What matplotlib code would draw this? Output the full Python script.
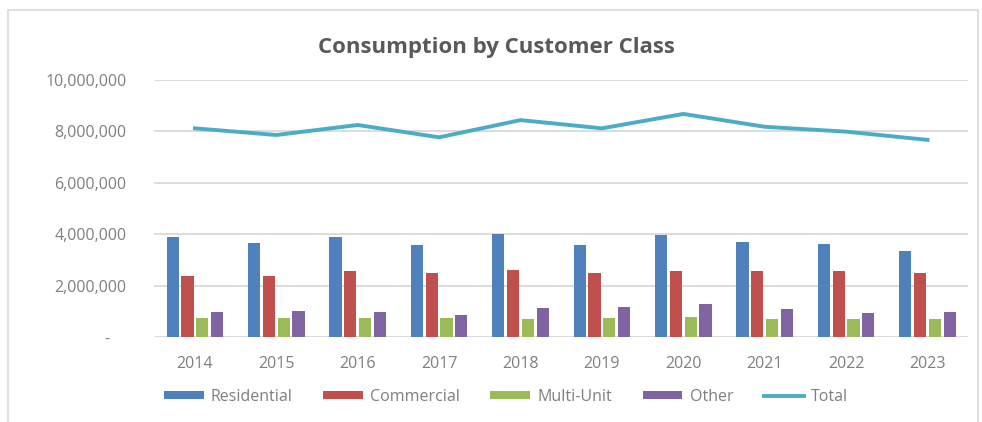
import numpy as np
import matplotlib
matplotlib.use('Agg')
import matplotlib.pyplot as plt
from matplotlib.patches import Rectangle
from matplotlib.ticker import FuncFormatter

# data
years = ['2014', '2015', '2016', '2017', '2018', '2019', '2020', '2021', '2022', '2023']
residential = [3900000, 3650000, 3900000, 3570000, 4010000, 3570000, 3980000, 3710000, 3620000, 3350000]
commercial = [2370000, 2370000, 2570000, 2480000, 2610000, 2500000, 2570000, 2570000, 2570000, 2500000]
multi_unit = [750000, 750000, 750000, 750000, 690000, 730000, 770000, 690000, 690000, 690000]
other = [960000, 1020000, 960000, 860000, 1120000, 1160000, 1270000, 1080000, 950000, 980000]
total = [8120000, 7860000, 8250000, 7770000, 8440000, 8120000, 8680000, 8180000, 7990000, 7670000]

series = [('Residential', residential, '#4F81BD'),
          ('Commercial', commercial, '#C0504D'),
          ('Multi-Unit', multi_unit, '#9BBB59'),
          ('Other', other, '#8064A2')]

plt.rcParams['font.family'] = ['Open Sans', 'DejaVu Sans']

fig = plt.figure(figsize=(9.82, 4.22), dpi=100)
ax = fig.add_axes([0.157, 0.2014, 0.829, 0.609])

x = np.arange(len(years))
pitch = 0.182
width = 0.15
handles = []
for i, (name, vals, col) in enumerate(series):
    handles.append(ax.bar(x + (i - 1.5) * pitch, vals, width, color=col, label=name, zorder=3))
line, = ax.plot(x, total, color='#4BACC6', lw=2.8, label='Total', zorder=4)
handles.append(line)

ax.set_xlim(-0.5, len(years) - 0.5)
ax.set_ylim(0, 10000000)
ax.set_yticks(np.arange(0, 10000001, 2000000))
ax.yaxis.set_major_formatter(FuncFormatter(lambda v, p: '-    ' if v == 0 else f'{int(v):,}'))
ax.set_xticks(x)
ax.set_xticklabels(years)
ax.grid(axis='y', color='#d9d9d9', lw=1.3, zorder=0)
for s in ax.spines.values():
    s.set_visible(False)
ax.tick_params(length=0, colors='#7f7f7f', labelsize=11.5)
ax.tick_params(axis='y', pad=20)
ax.tick_params(axis='x', pad=14)

fig.text(0.506, 0.888, 'Consumption by Customer Class', ha='center', va='center',
         fontsize=16, fontweight='bold', color='#595959')

leg = fig.legend(handles=handles, loc='center', bbox_to_anchor=(0.515, 0.06), ncol=5,
                 frameon=False, fontsize=11.5, handlelength=2.5, handleheight=0.45,
                 columnspacing=1.9, handletextpad=0.45)
for t in leg.get_texts():
    t.set_color('#7f7f7f')

# chart frame
fig.patches.append(Rectangle((8 / 982, -0.05), 970 / 982, 1 - 10 / 422 + 0.05,
                             transform=fig.transFigure, fill=False,
                             edgecolor='#d9d9d9', lw=1.2))

fig.savefig('out.png', dpi=100)
